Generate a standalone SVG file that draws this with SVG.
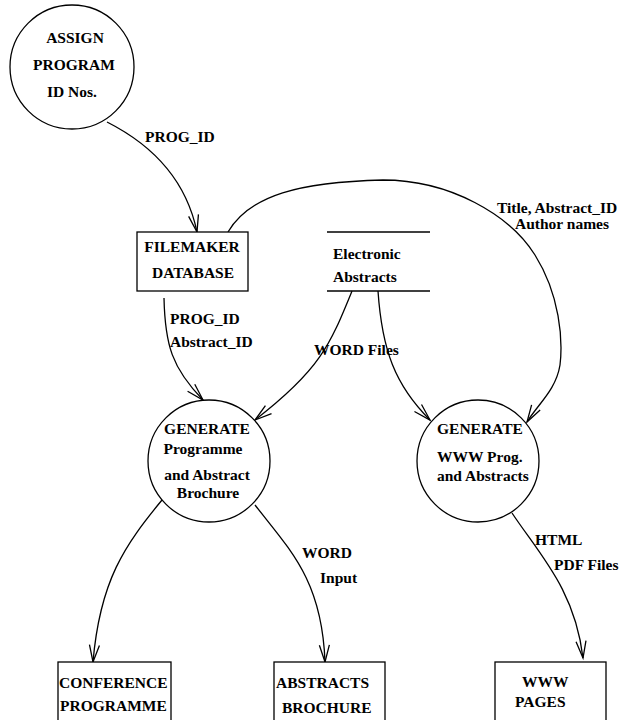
<svg xmlns="http://www.w3.org/2000/svg" width="629" height="720" viewBox="0 0 629 720">
<style>
text{font-family:"Liberation Serif","Times New Roman",serif;font-weight:bold;font-size:15.5px;fill:#000}
.c{text-anchor:middle}
.s{fill:#fff;stroke:#000;stroke-width:1.3}
.e{fill:none;stroke:#000;stroke-width:1.3}
</style>
<defs>
<marker id="a" markerUnits="userSpaceOnUse" markerWidth="40" markerHeight="40" viewBox="-20 -20 40 40" refX="0" refY="0" orient="auto">
<path d="M-17,-5 L0,0 L-17,5" fill="none" stroke="#000" stroke-width="1.3"/>
</marker>
</defs>
<rect width="629" height="720" fill="#fff"/>
<g id="connectors">
<path class="e" d="M107,122 Q182,160 197,232" marker-end="url(#a)"/>
<path class="e" d="M228,232 C250,195 300,182 383,180 C450,180 510,215 535,255 C560,295 563,340 560,365 C556,390 538,404 527,422" marker-end="url(#a)"/>
<path class="e" d="M164,298 C165,345 172,368 203,400" marker-end="url(#a)"/>
<path class="e" d="M352,291 C330,345 320,370 255,420" marker-end="url(#a)"/>
<path class="e" d="M378,291 C382,350 395,385 430,420" marker-end="url(#a)"/>
<path class="e" d="M162,500 C125,545 100,580 93,662" marker-end="url(#a)"/>
<path class="e" d="M255,505 C290,550 322,580 325,662" marker-end="url(#a)"/>
<path class="e" d="M512,513 C540,555 575,590 583,658" marker-end="url(#a)"/>
<text x="145" y="142">PROG_ID</text>
<text x="497" y="213">Title, Abstract_ID</text>
<text x="515" y="229">Author names</text>
<text x="170" y="324">PROG_ID</text>
<text x="170" y="347">Abstract_ID</text>
<text x="314" y="355">WORD Files</text>
<text x="302" y="558">WORD</text>
<text x="320" y="583">Input</text>
<text x="535" y="545">HTML</text>
<text x="554" y="570">PDF Files</text>
</g>
<g id="assign">
<circle class="s" cx="72" cy="67" r="62"/>
<text class="c" x="75" y="43">ASSIGN</text>
<text class="c" x="74" y="70">PROGRAM</text>
<text class="c" x="72" y="97">ID Nos.</text>
</g>
<g id="filemaker">
<rect class="s" x="137" y="232" width="111" height="59"/>
<text class="c" x="192" y="252">FILEMAKER</text>
<text class="c" x="193" y="278">DATABASE</text>
</g>
<g id="electronic">
<line class="e" x1="327" y1="232" x2="430" y2="232"/>
<line class="e" x1="327" y1="291" x2="430" y2="291"/>
<text x="333" y="259">Electronic</text>
<text x="333" y="282">Abstracts</text>
</g>
<g id="gen-prog">
<circle class="s" cx="209" cy="461" r="61"/>
<text class="c" x="207" y="434">GENERATE</text>
<text class="c" x="203" y="454">Programme</text>
<text class="c" x="207" y="480">and Abstract</text>
<text class="c" x="208" y="498">Brochure</text>
</g>
<g id="gen-www">
<circle class="s" cx="478" cy="461" r="61"/>
<text x="437" y="434">GENERATE</text>
<text x="437" y="462">WWW Prog.</text>
<text x="437" y="481">and Abstracts</text>
</g>
<g id="conference">
<rect class="s" x="58" y="662" width="113" height="70"/>
<text x="59" y="688">CONFERENCE</text>
<text x="60" y="711">PROGRAMME</text>
</g>
<g id="abstracts">
<rect class="s" x="274" y="662" width="111" height="70"/>
<text x="276" y="688">ABSTRACTS</text>
<text x="282" y="713">BROCHURE</text>
</g>
<g id="www">
<rect class="s" x="495" y="662" width="111" height="70"/>
<text x="522" y="687">WWW</text>
<text x="515" y="707">PAGES</text>
</g>
</svg>
